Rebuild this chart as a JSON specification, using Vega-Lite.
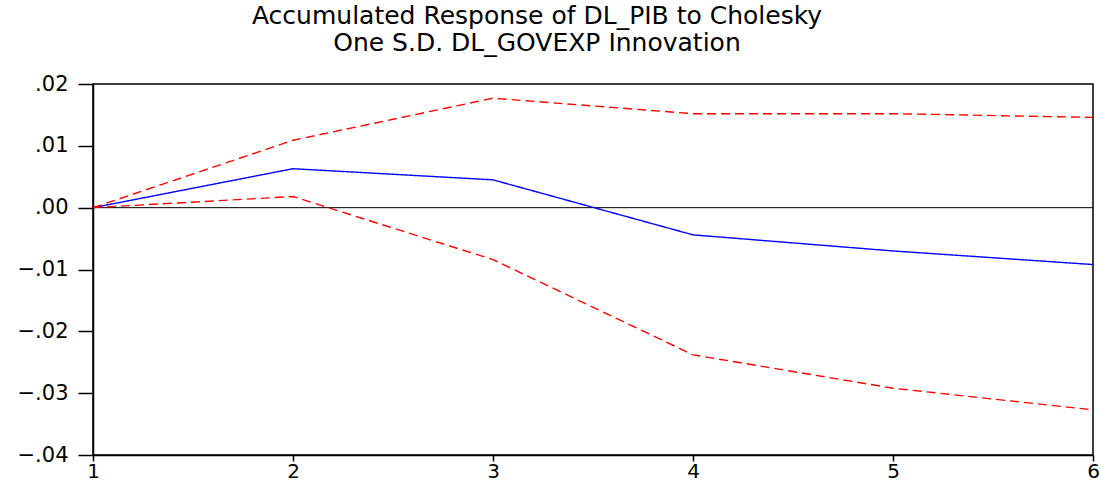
{
  "$schema": "https://vega.github.io/schema/vega-lite/v6.json",
  "autosize": "none",
  "width": 1000,
  "height": 371,
  "padding": {"left": 93, "top": 84, "right": 8, "bottom": 27},
  "background": "white",
  "config": {"view": {"stroke": "black", "strokeWidth": 1.5}},
  "title": {
    "text": ["Accumulated Response of DL_PIB to Cholesky", "One S.D. DL_GOVEXP Innovation"],
    "font": "DejaVu Sans",
    "fontSize": 25,
    "fontWeight": "normal",
    "color": "black",
    "anchor": "middle",
    "dx": -56,
    "offset": 17,
    "lineHeight": 27
  },
  "data": {
    "values": [
      {"period": 1, "series": "response", "value": 0.0},
      {"period": 2, "series": "response", "value": 0.0063},
      {"period": 3, "series": "response", "value": 0.0045},
      {"period": 4, "series": "response", "value": -0.0044},
      {"period": 5, "series": "response", "value": -0.0070},
      {"period": 6, "series": "response", "value": -0.0092},
      {"period": 1, "series": "upper", "value": 0.0},
      {"period": 2, "series": "upper", "value": 0.0109},
      {"period": 3, "series": "upper", "value": 0.0177},
      {"period": 4, "series": "upper", "value": 0.0152},
      {"period": 5, "series": "upper", "value": 0.0152},
      {"period": 6, "series": "upper", "value": 0.0146},
      {"period": 1, "series": "lower", "value": 0.0},
      {"period": 2, "series": "lower", "value": 0.0018},
      {"period": 3, "series": "lower", "value": -0.0084},
      {"period": 4, "series": "lower", "value": -0.0238},
      {"period": 5, "series": "lower", "value": -0.0292},
      {"period": 6, "series": "lower", "value": -0.0327}
    ]
  },
  "layer": [
    {
      "mark": {"type": "rule", "color": "black", "strokeWidth": 1},
      "data": {"values": [{"zero": 0}]},
      "encoding": {"y": {"field": "zero", "type": "quantitative", "scale": {"domain": [-0.04, 0.02], "nice": false}}}
    },
    {
      "mark": {"type": "line", "strokeWidth": 1.4},
      "encoding": {
        "x": {
          "field": "period", "type": "quantitative",
          "scale": {"domain": [1, 6], "nice": false, "zero": false},
          "axis": {
            "title": null, "values": [1, 2, 3, 4, 5, 6], "format": "d",
            "grid": false, "domainColor": "black", "domainWidth": 1.5,
            "tickColor": "black", "tickSize": 6, "tickWidth": 1.5,
            "labelFont": "DejaVu Sans", "labelFontSize": 20, "labelColor": "black",
            "labelPadding": 0, "labelFlush": false
          }
        },
        "y": {
          "field": "value", "type": "quantitative",
          "scale": {"domain": [-0.04, 0.02], "nice": false, "zero": false},
          "axis": {
            "title": null, "values": [-0.04, -0.03, -0.02, -0.01, 0, 0.01, 0.02],
            "labelExpr": "replace(format(datum.value, '.2f'), '0.', '.')",
            "grid": false, "domainColor": "black", "domainWidth": 1.5,
            "tickColor": "black", "tickSize": 15, "tickWidth": 1.5,
            "labelFont": "DejaVu Sans", "labelFontSize": 21, "labelColor": "black",
            "labelPadding": 10
          }
        },
        "detail": {"field": "series"},
        "color": {
          "field": "series", "type": "nominal",
          "scale": {"domain": ["response", "upper", "lower"], "range": ["#0000ff", "#ff0000", "#ff0000"]},
          "legend": null
        },
        "strokeDash": {
          "field": "series", "type": "nominal",
          "scale": {"domain": ["response", "upper", "lower"], "range": [[1, 0], [9, 5], [9, 5]]},
          "legend": null
        }
      }
    }
  ]
}
